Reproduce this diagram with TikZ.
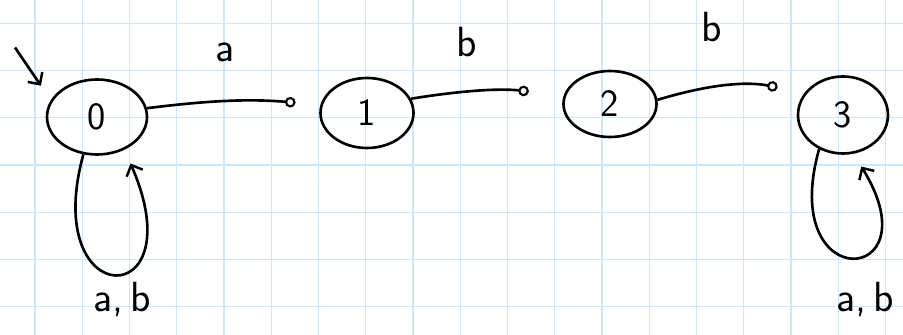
\documentclass[tikz,border=0pt]{standalone}
\usetikzlibrary{arrows.meta,shapes.geometric}
\definecolor{gridblue}{RGB}{204,230,250}
\tikzset{
  state/.style={draw,ellipse,line width=1.5pt,font=\sffamily\fontsize{22}{26}\selectfont,inner sep=0pt},
  trans/.style={line width=1.5pt,-{Circle[open,length=6pt,line width=1.2pt]}},
  loopedge/.style={line width=1.5pt,-{Straight Barb[length=5pt,width=10pt,line width=1.4pt]}},
  lbl/.style={font=\sffamily\fontsize{24}{28}\selectfont}
}
\begin{document}
\begin{tikzpicture}
\useasboundingbox (0,0) rectangle (18.06,6.7);
% grid paper
\foreach \i in {0,...,18}
  \draw[gridblue,line width=0.8pt] ({0.7+0.945*\i},0) -- ({0.7+0.945*\i},6.7);
\foreach \j in {0,...,6}
  \draw[gridblue,line width=0.8pt] (0,{6.234-0.9446*\j}) -- (18.06,{6.234-0.9446*\j});
% states
\node[state,minimum width=2cm,minimum height=1.5cm] (q0) at (1.94,4.36) {0};
\node[state,minimum width=1.86cm,minimum height=1.4cm] (q1) at (7.34,4.44) {1};
\node[state,minimum width=1.86cm,minimum height=1.32cm] (q2) at (12.2,4.62) {2};
\node[state,minimum width=1.8cm,minimum height=1.54cm] (q3) at (16.86,4.4) {3};
% start
\coordinate (init) at (0.3,5.75);
\draw[loopedge,shorten >=0.35cm] (init) -- (q0.160);
% transitions
\draw[trans,shorten >=0.5cm] (q0.10) to[bend left=6] (q1.170);
\draw[trans,shorten >=0.7cm] (q1.18) to[bend left=8] (q2.170);
\draw[trans,shorten >=0.55cm] (q2.5) to[bend left=14] (q3.150);
\draw[loopedge,shorten >=0.3cm] (q0.250) .. controls +(-0.88,-3.19) and +(1.43,-3.28) .. (q0.310);
\draw[loopedge,shorten >=0.3cm] (q3.235) .. controls +(-0.84,-2.97) and +(1.64,-2.65) .. (q3.285);
% labels
\node[lbl] (la) at (4.5,5.66) {a};
\node[lbl] (lb1) at (9.34,5.85) {b};
\node[lbl] (lb2) at (14.24,6.15) {b};
\node[lbl] (lab0) at (2.44,0.7) {a,\,b};
\node[lbl] (lab3) at (17.3,0.7) {a,\,b};
\end{tikzpicture}
\end{document}
